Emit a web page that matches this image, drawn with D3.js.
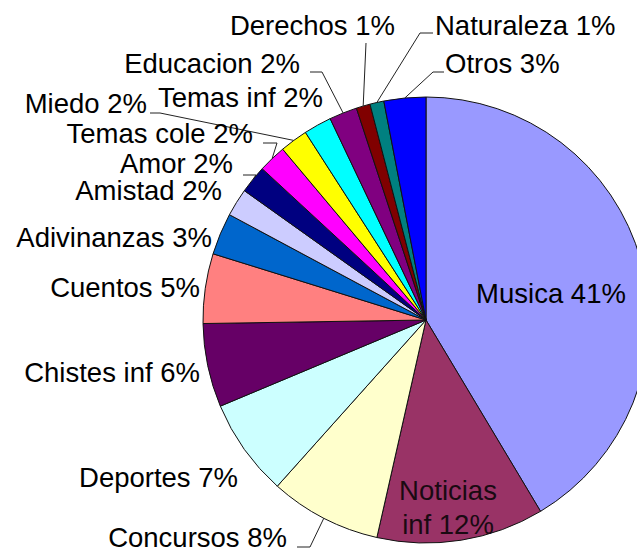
<!DOCTYPE html>
<html>
<head>
<meta charset="utf-8">
<script src="https://cdn.jsdelivr.net/npm/d3@7"></script>
<style>
  html, body { margin: 0; padding: 0; background: #ffffff; }
  svg { display: block; }
  text { font-family: Arial, "Liberation Sans", sans-serif; fill: #000; }
</style>
</head>
<body>
<svg id="chart" width="637" height="554"></svg>
<script>
// Categories, clockwise from 12 o'clock
const categories = [
  "Musica", "Noticias inf", "Concursos", "Deportes", "Chistes inf", "Cuentos",
  "Adivinanzas", "Amistad", "Amor", "Temas cole", "Miedo", "Temas inf",
  "Educacion", "Derechos", "Naturaleza", "Otros"
];
// Share of each category (%)
const values = [41, 12, 8, 7, 6, 5, 3, 2, 2, 2, 2, 2, 2, 1, 1, 3];
// Slice fills
const colors = [
  "#9999FF", "#993366", "#FFFFCC", "#CCFFFF", "#660066", "#FF8080",
  "#0066CC", "#CCCCFF", "#000080", "#FF00FF", "#FFFF00", "#00FFFF",
  "#800080", "#800000", "#008080", "#0000FF"
];

// Label placement: [x, y baseline, anchor]; leader start points where a leader is drawn
const labelLayout = [
  [551, 303, "middle"], [448, 500, "middle"], [287, 547, "end"], [238, 487, "end"],
  [200, 382, "end"], [200, 297, "end"], [212, 247, "end"], [222, 200, "end"],
  [233, 173, "end"], [253, 143, "end"], [147, 113, "end"], [323, 107, "end"],
  [300, 73, "end"], [395, 35, "end"], [435, 35, "start"], [445, 73, "start"]
];
const leaderStarts = {
  "Concursos": [[297, 547], [310, 547]],
  "Amor": [[243, 175], [256, 175]],
  "Temas cole": [[263, 143], [277, 143]],
  "Miedo": [[150, 113], [160, 113]],
  "Educacion": [[310, 72], [322, 72]],
  "Derechos": [[366, 43]],
  "Naturaleza": [[433, 33], [420, 33]],
  "Otros": [[444, 72], [433, 72]]
};

const cx = 426, cy = 320, r = 223;
const svg = d3.select("#chart");
const g = svg.append("g").attr("transform", `translate(${cx},${cy})`);

const data = categories.map((c, i) => ({ name: c, value: values[i], color: colors[i] }));

const pie = d3.pie().value(d => d.value).sort(null);
const arcs = pie(data);
const arc = d3.arc().innerRadius(0).outerRadius(r);
const rim = d3.arc().innerRadius(r).outerRadius(r);

g.selectAll("path.slice")
  .data(arcs)
  .enter().append("path")
  .attr("class", "slice")
  .attr("d", arc)
  .attr("fill", d => d.data.color)
  .attr("stroke", "#111")
  .attr("stroke-width", 1);

// Leader lines from labels to the slice rim
const line = d3.line();
arcs.forEach(a => {
  const st = leaderStarts[a.data.name];
  if (!st) return;
  const [ex, ey] = rim.centroid(a);
  const pts = st.concat([[ex + cx, ey + cy]]);
  svg.append("path")
    .attr("d", line(pts))
    .attr("fill", "none")
    .attr("stroke", "#222")
    .attr("stroke-width", 1);
});

// Labels
arcs.forEach((a, i) => {
  const [x, y, anchor] = labelLayout[i];
  const txt = `${a.data.name} ${a.data.value}%`;
  const t = svg.append("text")
    .attr("x", x).attr("y", y)
    .attr("text-anchor", anchor)
    .attr("font-size", 27.5);
  if (a.data.name === "Noticias inf") {
    t.append("tspan").attr("x", x).text("Noticias");
    t.append("tspan").attr("x", x).attr("dy", 34).text(`inf ${a.data.value}%`);
    t.style("fill", "#1a0a12");
  } else {
    t.text(txt);
  }
});
</script>
</body>
</html>
